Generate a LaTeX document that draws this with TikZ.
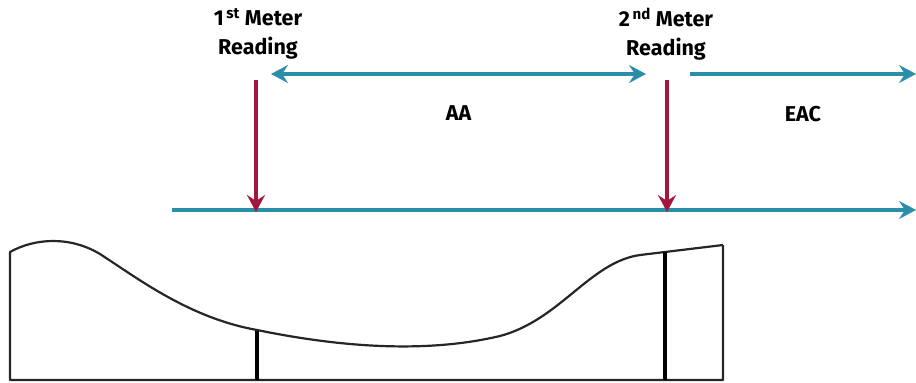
\documentclass[tikz,border=0pt]{standalone}
\usepackage{fontspec}
\setmainfont{Fira Sans}
\usetikzlibrary{arrows.meta}
\tikzset{>={Stealth[width=18pt,length=17pt,inset=6pt]}}
\definecolor{tealblue}{HTML}{2A8EAA}
\definecolor{wine}{HTML}{A3173E}
\tikzset{
  reading/.style={align=center,font=\fontsize{21.5}{29}\selectfont\bfseries},
  period/.style={font=\fontsize{21.5}{26}\selectfont\bfseries},
  timeline/.style={->,color=tealblue,line width=3.2pt},
  meter/.style={->,color=wine,line width=3.2pt},
  outline/.style={line width=2.2pt,color=black!85},
  marker/.style={line width=3.4pt}
}

\begin{document}
\begin{tikzpicture}[x=1pt,y=-1pt]

  \useasboundingbox (0,0) rectangle (916,383);

  %% readings
  \node[reading] (r1) at (258,34) {1\textsuperscript{\,st} Meter\\Reading};
  \node[reading] (r2) at (666,34) {2\textsuperscript{\,nd} Meter\\Reading};

  \coordinate (aaL) at (271,74);
  \coordinate (aaR) at (646,74);
  \coordinate (eacL) at (690,74);
  \coordinate (eacR) at (916,74);
  \draw[timeline,<->] (aaL) -- node[period,black,below=27pt]{AA} (aaR);
  \draw[timeline] (eacL) -- node[period,black,below=27pt]{EAC} (eacR);

  %% time axis
  \coordinate (t0) at (172,210);
  \coordinate (t1) at (916,210);
  \draw[timeline] (t0) -- (t1);

  \coordinate (m1) at (256,80);
  \coordinate (m2) at (667,80);
  \draw[meter] (m1) -- ([yshift=-2pt]m1 |- t0);
  \draw[meter] (m2) -- ([yshift=-2pt]m2 |- t0);

  %% profile
  \draw[outline,line join=round]
  (723,245) -- (723,380) -- (10,380) -- (10,252)
  .. controls (35,238) and (70,236) .. (100,254)
  .. controls (140,280) and (190,318) .. (257,330)
  .. controls (330,345) and (420,355) .. (500,336)
  .. controls (560,320) and (590,262) .. (640,255)
  -- (723,245);

  \draw[marker] (257,331) -- (257,380); %% first
  \draw[marker] (665,252) -- (665,380); %% second

\end{tikzpicture}
\end{document}
